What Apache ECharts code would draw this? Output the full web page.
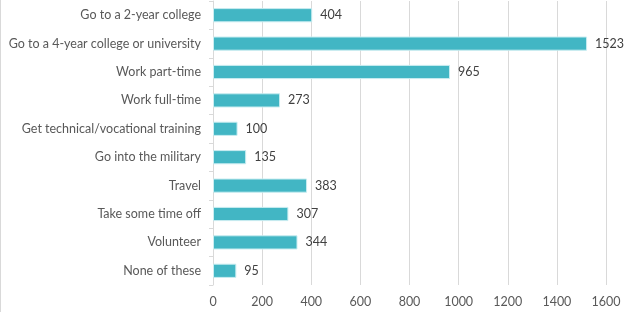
<!DOCTYPE html>
<html>
<head>
<meta charset="utf-8">
<script src="https://cdn.jsdelivr.net/npm/echarts@6/dist/echarts.min.js"></script>
<style>
  html, body { margin: 0; padding: 0; background: #fff; }
  #chart { width: 633px; height: 312px; }
</style>
</head>
<body>
<div id="chart"></div>
<script>
// categories, top to bottom as in the picture
var categories = [
    'Go to a 2-year college',
    'Go to a 4-year college or university',
    'Work part-time',
    'Work full-time',
    'Get technical/vocational training',
    'Go into the military',
    'Travel',
    'Take some time off',
    'Volunteer',
    'None of these'
];
var counts = [404, 1523, 965, 273, 100, 135, 383, 307, 344, 95];

var chart = echarts.init(document.getElementById('chart'));
var option = {
    animation: false,
    textStyle: { fontFamily: 'Lato' },
    graphic: [{
        type: 'line',
        shape: { x1: 0.5, y1: 0, x2: 0.5, y2: 312 },
        style: { stroke: '#d9d9d9', lineWidth: 1 }
    }],
    grid: {
        left: 213,
        right: 27,
        top: 1,
        bottom: 27
    },
    xAxis: {
        type: 'value',
        min: 0,
        max: 1600,
        interval: 200,
        axisLine: { show: false },
        axisTick: { show: false },
        axisLabel: {
            color: '#595959',
            fontSize: 12.5,
            margin: 10,
            formatter: function (v) { return String(v); }
        },
        splitLine: { lineStyle: { color: '#d9d9d9', width: 1 } }
    },
    yAxis: {
        type: 'category',
        inverse: true,
        data: categories,
        axisLine: { lineStyle: { color: '#d9d9d9' } },
        axisTick: { show: true, length: 4, lineStyle: { color: '#d9d9d9' } },
        axisLabel: { color: '#595959', fontSize: 12.5, margin: 12 }
    },
    series: [{
        type: 'bar',
        data: counts,
        barWidth: '50%',
        itemStyle: {
            color: '#42b6c4',
            borderColor: '#c9edf1',
            borderWidth: 1
        },
        label: {
            show: true,
            position: 'right',
            distance: 8,
            color: '#404040',
            fontSize: 12.5
        }
    }]
};
chart.setOption(option);
</script>
</body>
</html>
